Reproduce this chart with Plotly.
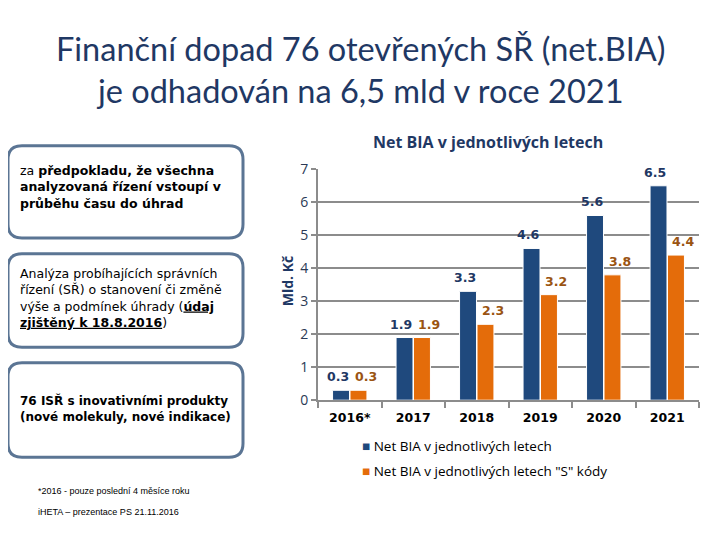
import plotly.graph_objects as go

W, H = 720, 540
# the page sits 8px in from the top-left and is squeezed slightly vertically
OFF, YS = 8, 0.982

years = ["2016*", "2017", "2018", "2019", "2020", "2021"]
net_bia = [0.3, 1.9, 3.3, 4.6, 5.6, 6.5]
net_bia_s = [0.3, 1.9, 2.3, 3.2, 3.8, 4.4]
y_ticks = [0, 1, 2, 3, 4, 5, 6, 7]

NAME_A = "Net BIA v jednotlivých letech"
NAME_B = 'Net BIA v jednotlivých letech "S" kódy'

NAVY = "#1F3864"
BLUE = "#1F497D"
ORANGE = "#E46C0A"
ORANGE_TXT = "#9A5412"
GRID = "#8C8C8C"
BOX = "#5B7594"


def fx(x):
    return (x - OFF) / W


def fy(y):
    return 1 - (y - OFF) / YS / H


def rounded_box(x0, y0, x1, y1, r=14):
    rx, ry = r / W, r / YS / H
    a, b, c, d = fx(x0), fy(y1), fx(x1), fy(y0)
    path = (
        f"M {a + rx},{b} L {c - rx},{b} Q {c},{b} {c},{b + ry} "
        f"L {c},{d - ry} Q {c},{d} {c - rx},{d} "
        f"L {a + rx},{d} Q {a},{d} {a},{d - ry} "
        f"L {a},{b + ry} Q {a},{b} {a + rx},{b} Z"
    )
    return dict(type="path", xref="paper", yref="paper", path=path,
                line=dict(color=BOX, width=3), fillcolor="white", layer="below")


def note(x, y, text, size, family, color="black", **kw):
    kw.setdefault("yanchor", "middle")
    return dict(x=fx(x), y=fy(y), xref="paper", yref="paper", text=text,
                font=dict(size=size, color=color, family=family), showarrow=False, **kw)


fig = go.Figure()
fig.add_trace(go.Bar(x=years, y=net_bia, name=NAME_A, showlegend=False,
                     marker=dict(color=BLUE, line=dict(color="white", width=1))))
fig.add_trace(go.Bar(x=years, y=net_bia_s, name=NAME_B, showlegend=False,
                     marker=dict(color=ORANGE, line=dict(color="white", width=1))))

annotations = []
# value labels (x = category index), pushed apart like in the original
for i, (a, b) in enumerate(zip(net_bia, net_bia_s)):
    annotations.append(dict(x=i, y=a, text=f"<b>{a:.1f}</b>", showarrow=False, yanchor="bottom",
                            xshift=-12, yshift=4,
                            font=dict(size=12.5, color=NAVY, family="DejaVu Sans")))
    annotations.append(dict(x=i, y=b, text=f"<b>{b:.1f}</b>", showarrow=False, yanchor="bottom",
                            xshift=16, yshift=4,
                            font=dict(size=12.5, color=ORANGE_TXT, family="DejaVu Sans")))

annotations += [
    note(360, 60, "Finanční dopad 76 otevřených SŘ (net.BIA)<br>je odhadován na 6,5 mld v roce 2021",
         32.5, "Lato", NAVY),
    note(488, 134, "<b>Net BIA v jednotlivých letech</b>", 16, "Open Sans", NAVY),
    note(287, 276, "<b>Mld. Kč</b>", 14, "Open Sans", NAVY, textangle=-90),
    note(18, 180,
         "za <b>předpokladu, že všechna</b><br><b>analyzovaná řízení vstoupí v</b><br><b>průběhu času do úhrad</b>",
         12.5, "DejaVu Sans", xanchor="left", align="left"),
    note(18, 293,
         "Analýza probíhajících správních<br>řízení (SŘ) o stanovení či změně<br>"
         "výše a podmínek úhrady (<b><u>údaj</u></b><br><b><u>zjištěný k 18.8.2016</u></b>)",
         12.5, "DejaVu Sans", xanchor="left", align="left"),
    note(18, 405, "<b>76 ISŘ s inovativními produkty</b><br><b>(nové molekuly, nové indikace)</b>",
         12, "DejaVu Sans", xanchor="left", align="left"),
    note(36, 489, "*2016 - pouze poslední 4 měsíce roku", 9, "Liberation Sans", xanchor="left"),
    note(36, 511, "iHETA – prezentace PS 21.11.2016", 9, "Liberation Sans", xanchor="left"),
    note(360, 444, f'<span style="color:{BLUE}">■</span> {NAME_A}', 13.5, "Open Sans", xanchor="left"),
    note(360, 469, f'<span style="color:{ORANGE}">■</span> {NAME_B}', 13.5, "Open Sans", xanchor="left"),
]

fig.update_layout(
    width=W, height=H,
    margin=dict(l=0, r=0, t=0, b=0),
    paper_bgcolor="white", plot_bgcolor="white",
    barmode="group", bargap=0.45, bargroupgap=0.03,
    font=dict(family="DejaVu Sans", color="black"),
    shapes=[
        rounded_box(8, 138, 243, 232),
        rounded_box(8, 248, 243, 343),
        rounded_box(8, 359, 243, 455),
    ],
    annotations=annotations,
    xaxis=dict(type="category", domain=[fx(318), fx(699)], showline=True, linecolor=GRID, linewidth=2,
               ticks="outside", tickson="boundaries", ticklen=6, tickcolor=GRID, tickwidth=2,
               ticklabelstandoff=5,
               tickfont=dict(size=12.5, family="DejaVu Sans", color="black", weight="bold")),
    yaxis=dict(domain=[fy(397), fy(162)], range=[0, 7], tickvals=y_ticks,
               showline=True, linecolor=GRID, linewidth=2,
               showgrid=True, gridcolor=GRID, gridwidth=2, zeroline=False,
               ticks="outside", ticklen=5, tickcolor=GRID, tickwidth=2,
               tickfont=dict(size=14, family="Open Sans", color="#2B3A55")),
)

fig.write_html("out.html")
